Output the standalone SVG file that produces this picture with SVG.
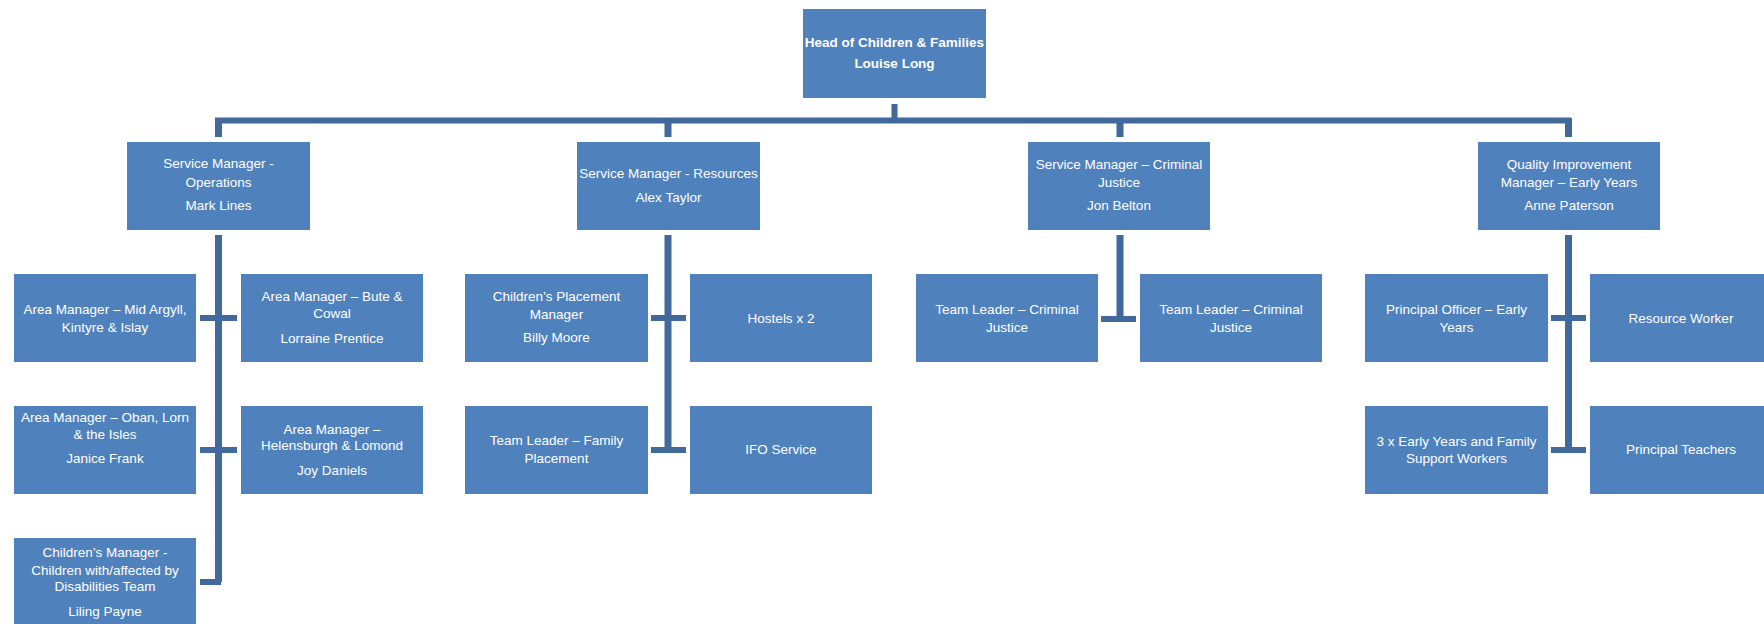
<svg xmlns="http://www.w3.org/2000/svg" width="1764" height="624" viewBox="0 0 1764 624">
<style>
.box{fill:#4F81BD;}
.t{font-family:"Liberation Sans",Arial,sans-serif;font-size:13.5px;fill:#FFFFFF;text-anchor:middle;}
.b{font-weight:bold;}
.c{stroke:#41699C;stroke-width:6;fill:none;}
.cv{stroke:#41699C;stroke-width:7;fill:none;}
</style>
<rect width="1764" height="624" fill="#FFFFFF"/>
<g id="connectors">
<path class="c" d="M894.5 104V120.5M215 120.5H1571"/>
<path class="cv" d="M218.5 118V137M668 118V137M1120 118V137M1568.5 118V137"/>
<path class="cv" d="M218.5 235V582M668 235V450M1120 235V319M1568.5 235V450"/>
<path class="c" d="M200 318H237M200 450H237M200 582H221"/>
<path class="c" d="M651 318H686M651 450H686"/>
<path class="c" d="M1101 319H1136"/>
<path class="c" d="M1551 318H1586M1551 450H1586"/>
</g>
<g id="head">
<rect class="box" x="803" y="9" width="183" height="89"/>
<text class="t b"><tspan x="894.5" y="47">Head of Children &amp; Families</tspan><tspan x="894.5" y="68">Louise Long</tspan></text>
</g>
<g id="sm-operations">
<rect class="box" x="127" y="142" width="183" height="88"/>
<text class="t"><tspan x="218.5" y="168">Service Manager -</tspan><tspan x="218.5" y="187">Operations</tspan><tspan x="218.5" y="210">Mark Lines</tspan></text>
</g>
<g id="sm-resources">
<rect class="box" x="577" y="142" width="183" height="88"/>
<text class="t"><tspan x="668.5" y="178">Service Manager - Resources</tspan><tspan x="668.5" y="202">Alex Taylor</tspan></text>
</g>
<g id="sm-criminal-justice">
<rect class="box" x="1028" y="142" width="182" height="88"/>
<text class="t"><tspan x="1119" y="169">Service Manager – Criminal</tspan><tspan x="1119" y="187">Justice</tspan><tspan x="1119" y="210">Jon Belton</tspan></text>
</g>
<g id="qi-early-years">
<rect class="box" x="1478" y="142" width="182" height="88"/>
<text class="t"><tspan x="1569" y="169">Quality Improvement</tspan><tspan x="1569" y="187">Manager – Early Years</tspan><tspan x="1569" y="210">Anne Paterson</tspan></text>
</g>
<g id="am-mid-argyll">
<rect class="box" x="14" y="274" width="182" height="88"/>
<text class="t"><tspan x="105" y="314">Area Manager – Mid Argyll,</tspan><tspan x="105" y="332">Kintyre &amp; Islay</tspan></text>
</g>
<g id="am-bute-cowal">
<rect class="box" x="241" y="274" width="182" height="88"/>
<text class="t"><tspan x="332" y="301">Area Manager – Bute &amp;</tspan><tspan x="332" y="318">Cowal</tspan><tspan x="332" y="343">Lorraine Prentice</tspan></text>
</g>
<g id="am-oban">
<rect class="box" x="14" y="406" width="182" height="88"/>
<text class="t"><tspan x="105" y="422">Area Manager – Oban, Lorn</tspan><tspan x="105" y="439">&amp; the Isles</tspan><tspan x="105" y="463">Janice Frank</tspan></text>
</g>
<g id="am-helensburgh">
<rect class="box" x="241" y="406" width="182" height="88"/>
<text class="t"><tspan x="332" y="434">Area Manager –</tspan><tspan x="332" y="450">Helensburgh &amp; Lomond</tspan><tspan x="332" y="475">Joy Daniels</tspan></text>
</g>
<g id="childrens-manager">
<rect class="box" x="14" y="538" width="182" height="88"/>
<text class="t"><tspan x="105" y="557">Children’s Manager -</tspan><tspan x="105" y="575">Children with/affected by</tspan><tspan x="105" y="591">Disabilities Team</tspan><tspan x="105" y="616">Liling Payne</tspan></text>
</g>
<g id="childrens-placement">
<rect class="box" x="465" y="274" width="183" height="88"/>
<text class="t"><tspan x="556.5" y="301">Children’s Placement</tspan><tspan x="556.5" y="319">Manager</tspan><tspan x="556.5" y="342">Billy Moore</tspan></text>
</g>
<g id="hostels">
<rect class="box" x="690" y="274" width="182" height="88"/>
<text class="t"><tspan x="781" y="323">Hostels x 2</tspan></text>
</g>
<g id="tl-family-placement">
<rect class="box" x="465" y="406" width="183" height="88"/>
<text class="t"><tspan x="556.5" y="445">Team Leader – Family</tspan><tspan x="556.5" y="463">Placement</tspan></text>
</g>
<g id="ifo-service">
<rect class="box" x="690" y="406" width="182" height="88"/>
<text class="t"><tspan x="781" y="454">IFO Service</tspan></text>
</g>
<g id="tl-cj-1">
<rect class="box" x="916" y="274" width="182" height="88"/>
<text class="t"><tspan x="1007" y="314">Team Leader – Criminal</tspan><tspan x="1007" y="332">Justice</tspan></text>
</g>
<g id="tl-cj-2">
<rect class="box" x="1140" y="274" width="182" height="88"/>
<text class="t"><tspan x="1231" y="314">Team Leader – Criminal</tspan><tspan x="1231" y="332">Justice</tspan></text>
</g>
<g id="principal-officer">
<rect class="box" x="1365" y="274" width="183" height="88"/>
<text class="t"><tspan x="1456.5" y="314">Principal Officer – Early</tspan><tspan x="1456.5" y="332">Years</tspan></text>
</g>
<g id="resource-worker">
<rect class="box" x="1590" y="274" width="182" height="88"/>
<text class="t"><tspan x="1681" y="323">Resource Worker</tspan></text>
</g>
<g id="family-support-workers">
<rect class="box" x="1365" y="406" width="183" height="88"/>
<text class="t"><tspan x="1456.5" y="446">3 x Early Years and Family</tspan><tspan x="1456.5" y="463">Support Workers</tspan></text>
</g>
<g id="principal-teachers">
<rect class="box" x="1590" y="406" width="182" height="88"/>
<text class="t"><tspan x="1681" y="454">Principal Teachers</tspan></text>
</g>
</svg>
